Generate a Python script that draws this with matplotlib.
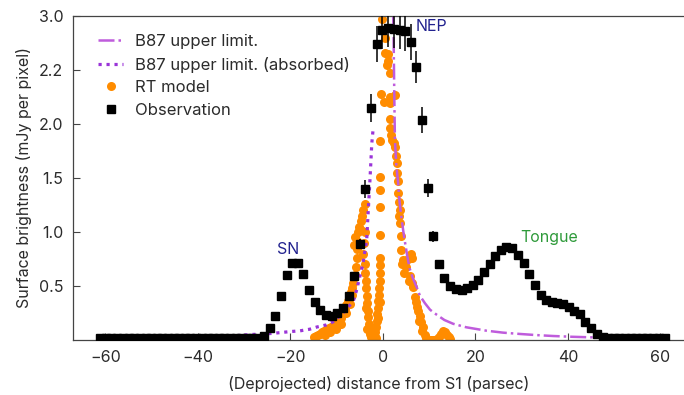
import matplotlib
matplotlib.use("Agg")
import matplotlib.pyplot as plt
from matplotlib.lines import Line2D

plt.rcParams['font.family'] = ['Inter', 'DejaVu Sans']

# Observed surface brightness along the cut
obs_x = [-61.1, -59.9, -58.7, -57.4, -56.2, -55.0, -53.8, -52.6, -51.3, -50.1,
         -48.9, -47.7, -46.5, -45.2, -44.0, -42.8, -41.6, -40.4, -39.1, -37.9,
         -36.7, -35.5, -34.3, -33.0, -31.8, -30.6, -29.4, -28.2, -26.9, -25.7,
         -24.5, -23.3, -22.1, -20.8, -19.6, -18.4, -17.2, -16.0, -14.7, -13.5,
         -12.3, -11.1, -9.9, -8.6, -7.4, -6.2, -5.0, -3.8, -2.5, -1.3,
         -0.1, 1.1, 2.3, 3.6, 4.8, 6.0, 7.2, 8.4, 9.7, 10.9,
         12.1, 13.3, 14.5, 15.8, 17.0, 18.2, 19.4, 20.6, 21.9, 23.1,
         24.3, 25.5, 26.7, 28.0, 29.2, 30.4, 31.6, 32.8, 34.1, 35.3,
         36.5, 37.7, 38.9, 40.2, 41.4, 42.6, 43.8, 45.0, 46.3, 47.5,
         48.7, 49.9, 51.1, 52.4, 53.6, 54.8, 56.0, 57.2, 58.5, 59.7, 60.9]
obs_y = [0.015, 0.015, 0.015, 0.015, 0.015, 0.015, 0.015, 0.015, 0.015, 0.015,
         0.015, 0.015, 0.015, 0.015, 0.015, 0.015, 0.015, 0.015, 0.015, 0.015,
         0.015, 0.015, 0.015, 0.015, 0.015, 0.015, 0.015, 0.015, 0.02, 0.04,
         0.11, 0.22, 0.41, 0.60, 0.71, 0.71, 0.61, 0.46, 0.35, 0.28,
         0.23, 0.22, 0.25, 0.30, 0.41, 0.59, 0.89, 1.40, 2.15, 2.74,
         2.87, 2.89, 2.88, 2.87, 2.86, 2.76, 2.53, 2.04, 1.41, 0.96,
         0.70, 0.57, 0.50, 0.47, 0.46, 0.48, 0.51, 0.56, 0.63, 0.70,
         0.78, 0.83, 0.86, 0.85, 0.79, 0.71, 0.61, 0.51, 0.42, 0.37,
         0.35, 0.34, 0.33, 0.31, 0.27, 0.24, 0.17, 0.11, 0.06, 0.03,
         0.015, 0.015, 0.015, 0.015, 0.015, 0.015, 0.015, 0.015, 0.015, 0.015, 0.015]
obs_err = [0.01, 0.01, 0.01, 0.01, 0.01, 0.01, 0.01, 0.01, 0.01, 0.01,
           0.01, 0.01, 0.01, 0.01, 0.01, 0.01, 0.01, 0.01, 0.01, 0.01,
           0.01, 0.01, 0.01, 0.01, 0.01, 0.01, 0.01, 0.01, 0.01, 0.01,
           0.01, 0.01, 0.02, 0.02, 0.02, 0.02, 0.02, 0.02, 0.01, 0.01,
           0.01, 0.01, 0.01, 0.01, 0.02, 0.03, 0.045, 0.085, 0.13, 0.17,
           0.18, 0.18, 0.18, 0.18, 0.18, 0.17, 0.15, 0.12, 0.085, 0.05,
           0.03, 0.02, 0.02, 0.02, 0.02, 0.02, 0.02, 0.02, 0.02, 0.02,
           0.02, 0.02, 0.02, 0.02, 0.02, 0.02, 0.02, 0.02, 0.02, 0.02,
           0.02, 0.02, 0.02, 0.02, 0.02, 0.01, 0.01, 0.01, 0.01, 0.01,
           0.01, 0.01, 0.01, 0.01, 0.01, 0.01, 0.01, 0.01, 0.01, 0.01, 0.01]

# Radiative-transfer model samples
rt_x = [-14.8, -14.4, -14.0, -13.6, -13.2, -12.8, -12.4, -12.0, -11.6, -11.2,
        -10.8, -10.4, -10.0, -9.7, -9.4, -9.1, -8.8, -8.5, -8.2, -7.9,
        -7.6, -7.3, -7.0, -6.7, -6.4, -6.1, -5.8, -5.6, -5.5, -6.2,
        -6.0, -5.7, -5.4, -5.1, -4.8, -4.5, -4.2, -3.9, -4.3, -4.1,
        -3.9, -3.9, -3.8, -3.7, -3.6, -3.5, -3.4, -3.3, -3.2, -3.1,
        -3.0, -2.8, -2.6, -2.3, -2.0, -1.8, -1.6, -1.4, -1.3, -1.2,
        -1.1, -1.0, -0.9, -0.8, -0.7, -0.65, -0.6, -0.6, -0.6, -0.6,
        -0.6, -0.6, -0.6, -0.5, -0.3, -0.1, 0.2, 0.5, 0.4, 0.4,
        0.8, 1.1, 1.1, 0.2, 1.5, 1.5, 1.5, 2.6, 1.5, 1.6,
        1.8, 2.0, 2.3, 2.6, 2.8, 3.0, 3.1, 3.3, 3.3, 3.5,
        3.7, 3.8, 3.9, 4.0, 4.4, 4.8, 5.4, 6.0, 6.2, 5.1,
        5.8, 6.3, 6.6, 6.9, 7.1, 7.3, 7.6, 8.0, 8.3, 8.7,
        9.1, 9.4, 9.8, 10.3, 10.8, 11.3, 11.8, 12.2, 12.6, 13.0,
        13.4, 13.8, 14.2, 14.6,
        -12.6, -11.4, -10.2, -9.0, -8.0, -7.2, -6.6, -5.3, -4.7, -3.6,
        -3.4, -1.5, -1.0, -0.7, 3.5, 4.2, 4.6, 5.6, 7.8, 8.5]
rt_y = [0.03, 0.04, 0.05, 0.06, 0.07, 0.08, 0.09, 0.10, 0.11, 0.12,
        0.13, 0.14, 0.15, 0.16, 0.18, 0.20, 0.23, 0.26, 0.29, 0.32,
        0.36, 0.40, 0.44, 0.48, 0.53, 0.60, 0.68, 0.76, 0.84, 0.88,
        0.95, 0.92, 1.00, 1.05, 1.10, 1.15, 1.20, 1.26, 0.80, 0.90,
        1.00, 0.70, 0.62, 0.55, 0.48, 0.41, 0.34, 0.27, 0.21, 0.15,
        0.10, 0.06, 0.03, 0.01, 0.01, 0.03, 0.07, 0.12, 0.18, 0.24,
        0.30, 0.36, 0.42, 0.48, 0.55, 0.62, 0.69, 0.76, 0.97, 1.23,
        1.39, 1.51, 1.84, 2.28, 2.97, 3.30, 3.60, 3.30, 2.80, 2.66,
        2.55, 2.65, 2.58, 2.20, 2.47, 2.25, 2.19, 2.27, 2.05, 1.96,
        1.90, 1.85, 1.82, 1.79, 1.70, 1.64, 1.55, 1.47, 1.36, 1.28,
        1.20, 1.08, 0.96, 0.83, 0.74, 0.72, 0.75, 0.80, 0.76, 0.68,
        0.59, 0.53, 0.49, 0.40, 0.35, 0.31, 0.27, 0.22, 0.17, 0.12,
        0.05, 0.02, 0.0, 0.0, 0.0, 0.0, 0.01, 0.03, 0.06, 0.08,
        0.07, 0.05, 0.03, 0.01,
        0.05, 0.07, 0.10, 0.15, 0.25, 0.33, 0.42, 0.90, 1.02, 0.30,
        0.10, 0.02, 0.20, 0.35, 1.15, 0.70, 0.62, 0.55, 0.18, 0.08]

# B87 upper limit, unabsorbed (right side)
b87_x = [2.2, 2.3, 2.4, 2.5, 2.6, 2.9, 3.3, 3.6, 4.0, 4.4, 4.8, 5.3, 5.8, 6.5,
         7.3, 8.0, 9.1, 10.2, 11.6, 13.3, 15.2, 18.0, 22.4, 26.0, 29.6, 33.0,
         36.8, 40.8, 44.8, 50.0, 55.0, 60.0]
b87_y = [3.05, 2.85, 2.50, 2.15, 1.85, 1.62, 1.45, 1.28, 1.14, 1.01, 0.90, 0.77,
         0.66, 0.57, 0.49, 0.41, 0.34, 0.28, 0.235, 0.185, 0.15, 0.118, 0.086,
         0.068, 0.056, 0.046, 0.037, 0.030, 0.025, 0.020, 0.016, 0.013]

# B87 upper limit with absorption (left side)
abs_x = [-61.0, -50.0, -40.0, -33.0, -29.0, -26.0, -23.7, -20.0, -17.9, -15.8,
         -14.3, -12.2, -10.7, -8.6, -7.8, -6.4, -5.7, -4.3, -3.5, -3.2, -2.8,
         -2.4, -2.1]
abs_y = [0.01, 0.015, 0.02, 0.035, 0.05, 0.055, 0.062, 0.078, 0.085, 0.10,
         0.12, 0.14, 0.17, 0.25, 0.29, 0.36, 0.46, 0.71, 0.93, 1.17, 1.48,
         1.82, 1.96]

xticks = [-60, -40, -20, 0, 20, 40, 60]
yticks = [0.5, 1.0, 1.5, 2.0, 2.5, 3.0]
ytick_labels = ['0.5', '1.0', '1.5', '2.0', '2.2', '3.0']

line_col = '#BF5CDC'
dot_col = '#9A34D8'
rt_col = '#FF8C00'
txt_col = '#2b2b2b'
fs = 11.5

fig = plt.figure(figsize=(6.84, 3.95), dpi=100)
ax = fig.add_axes([73 / 684, 55 / 395, 611 / 684, 324 / 395])

ax.plot(rt_x, rt_y, 'o', color=rt_col, ms=6.5, mec='none', zorder=1)
ax.plot(b87_x, b87_y, '-.', color=line_col, lw=1.8, zorder=2)
ax.plot(abs_x, abs_y, color=dot_col, lw=2.3, ls=(0, (1, 1.5)), zorder=2)
ax.errorbar(obs_x, obs_y, yerr=obs_err, fmt='s', color='black', ms=5.3,
            elinewidth=1.1, capsize=0, zorder=3)

ax.text(7.1, 2.90, 'NEP', color='#22228f', fontsize=fs, va='center')
ax.text(-23.0, 0.84, 'SN', color='#22228f', fontsize=fs, va='center')
ax.text(29.8, 0.95, 'Tongue', color='#2e9a3a', fontsize=fs, va='center')

ax.set_xlim(-67, 65.1)
ax.set_ylim(0, 3.0)
ax.set_xticks(xticks)
ax.set_yticks(yticks)
ax.set_yticklabels(ytick_labels)
ax.tick_params(direction='in', length=5, width=0.8, labelsize=fs,
               colors='#444444', labelcolor=txt_col, pad=7)
for side in ['left', 'top', 'bottom']:
    ax.spines[side].set_color('#444444')
    ax.spines[side].set_linewidth(0.9)
ax.spines['right'].set_visible(False)

ax.set_xlabel('(Deprojected) distance from S1 (parsec)', fontsize=fs,
              color=txt_col, labelpad=8)
ax.set_ylabel('Surface brightness (mJy per pixel)', fontsize=fs,
              color=txt_col, labelpad=5)

handles = [
    Line2D([], [], ls='-.', color=line_col, lw=1.8),
    Line2D([], [], ls=(0, (1, 1.5)), color=dot_col, lw=2.3),
    Line2D([], [], ls='none', marker='o', color=rt_col, ms=6.5, mec='none'),
    Line2D([], [], ls='none', marker='s', color='black', ms=5.3),
]
labels = ['B87 upper limit.', 'B87 upper limit. (absorbed)', 'RT model', 'Observation']
ax.legend(handles, labels, loc='upper left', bbox_to_anchor=(0.025, 0.975),
          frameon=False, fontsize=12, handlelength=1.5, handletextpad=0.7,
          labelspacing=0.45, borderaxespad=0.2, labelcolor=txt_col)

fig.savefig('out.png', dpi=100)
